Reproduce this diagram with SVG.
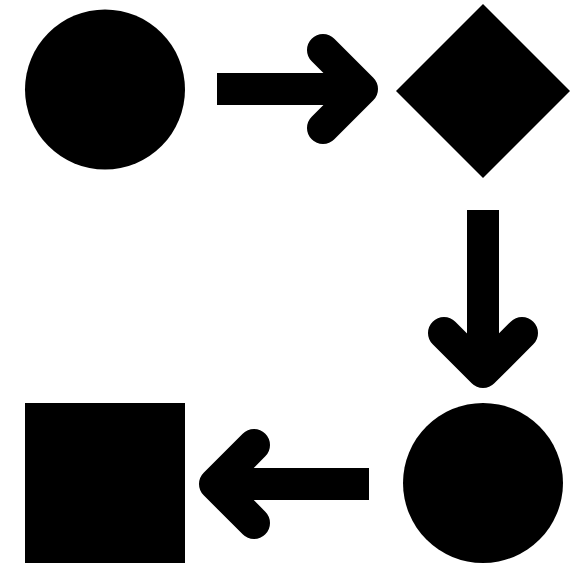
<svg xmlns="http://www.w3.org/2000/svg" width="571" height="566" viewBox="0 0 571 566">
<style>
.node{fill:#000}
.shaft{stroke:#000;stroke-width:32;fill:none;stroke-linecap:butt}
.head{stroke:#000;stroke-width:32;fill:none;stroke-linecap:round;stroke-linejoin:round}
</style>
<rect width="571" height="566" fill="#fff"/>
<g id="node-start"><circle class="node" cx="105" cy="89.5" r="80"/></g>
<g id="node-decision"><polygon class="node" points="483,4 570,91 483,178 396,91"/></g>
<g id="node-process"><circle class="node" cx="483" cy="483" r="80"/></g>
<g id="node-end"><rect class="node" x="25" y="403" width="160" height="160"/></g>
<g id="connectors">
<line class="shaft" x1="217" y1="89" x2="360" y2="89"/>
<polyline class="head" points="323,50 362,89 323,128"/>
<line class="shaft" x1="483" y1="210" x2="483" y2="370"/>
<polyline class="head" points="444,333 483,372 522,333"/>
<line class="shaft" x1="369" y1="484" x2="217" y2="484"/>
<polyline class="head" points="254,445 215,484 254,523"/>
</g>
</svg>
